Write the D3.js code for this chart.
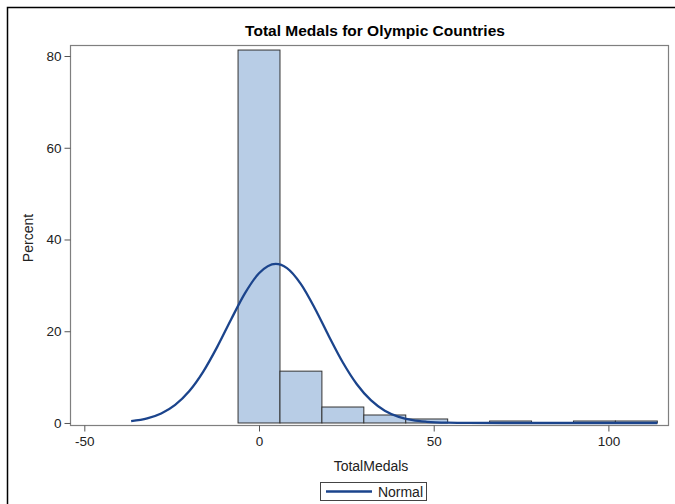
<!DOCTYPE html>
<html>
<head>
<meta charset="utf-8">
<script src="https://cdn.jsdelivr.net/npm/d3@7"></script>
<style>
  html, body { margin: 0; padding: 0; background: #fff; }
  svg { display: block; }
  text { font-family: "Liberation Sans", Arial, sans-serif; }
</style>
</head>
<body>
<svg id="chart" width="675" height="504"></svg>
<script>
// ---- data ----
const binEdges = [-6, 6, 18, 30, 42, 54, 66, 78, 90, 102, 114];
const binPercents = [81.3, 11.3, 3.48, 1.74, 0.87, 0, 0.43, 0, 0.43, 0.43];
const curveX = [-36.6, -32, -28, -24, -20, -16, -12, -8, -4, 0, 4.8, 8, 12, 16, 20, 24, 28, 32, 36, 40, 44, 48, 54, 60, 70, 80, 114];
const curveY = [0.39, 0.99, 2.06, 3.93, 6.9, 11.14, 16.53, 22.56, 28.31, 32.65, 34.69, 33.77, 30.28, 24.96, 18.91, 13.18, 8.44, 4.97, 2.69, 1.34, 0.61, 0.26, 0.06, 0.01, 0, 0, 0];
const xTicks = [-50, 0, 50, 100];
const yTicks = [0, 20, 40, 60, 80];
const titleText = "Total Medals for Olympic Countries";
const xLabel = "TotalMedals";
const yLabel = "Percent";
const legendLabel = "Normal";

// ---- layout ----
const svg = d3.select("#chart");
const frame = { left: 70, right: 668, top: 45, bottom: 425 };

const x = d3.scaleLinear().domain([-54.1, 117.06]).range([frame.left, frame.right]);
const y = d3.scaleLinear().domain([-0.44, 82.4]).range([frame.bottom, frame.top]);

// outer border
svg.append("rect")
  .attr("x", 7.5).attr("y", 7.5).attr("width", 720).attr("height", 540)
  .attr("fill", "none").attr("stroke", "#000").attr("stroke-width", 1.5);

// title
svg.append("text")
  .attr("x", 375).attr("y", 36)
  .attr("text-anchor", "middle").attr("font-size", 15.5).attr("font-weight", "bold")
  .attr("fill", "#000").text(titleText);

// bars
const bins = binPercents.map((p, i) => ({ x0: binEdges[i], x1: binEdges[i + 1], p }));
svg.append("g").selectAll("rect").data(bins.filter(d => d.p > 0)).join("rect")
  .attr("x", d => x(d.x0)).attr("width", d => x(d.x1) - x(d.x0))
  .attr("y", d => y(d.p)).attr("height", d => y(0) - y(d.p))
  .attr("fill", "#B8CDE6").attr("stroke", "#333").attr("stroke-width", 1);

// normal curve
const pts = curveX.map((v, i) => [v, curveY[i]]);
const line = d3.line().x(d => x(d[0])).y(d => y(d[1])).curve(d3.curveMonotoneX);
svg.append("path").datum(pts)
  .attr("d", line).attr("fill", "none")
  .attr("stroke", "#1B448C").attr("stroke-width", 2.3).attr("stroke-linejoin", "round");

// frame
svg.append("rect")
  .attr("x", frame.left + 0.5).attr("y", frame.top + 0.5)
  .attr("width", frame.right - frame.left).attr("height", frame.bottom - frame.top)
  .attr("fill", "none").attr("stroke", "#7F7F7F").attr("stroke-width", 1.2);

// axes
const fmt = d => String(d);
const xAxis = d3.axisBottom(x).tickValues(xTicks).tickFormat(fmt).tickSize(6).tickSizeOuter(0);
const gx = svg.append("g").attr("transform", `translate(0,${frame.bottom + 0.5})`).call(xAxis);
gx.select(".domain").remove();
gx.selectAll(".tick line").attr("stroke", "#555");
gx.selectAll(".tick text").attr("font-size", 13.5).attr("fill", "#222").attr("dy", "0.85em")
  .attr("font-family", "Liberation Sans, Arial, sans-serif");

const yAxis = d3.axisLeft(y).tickValues(yTicks).tickFormat(fmt).tickSize(6).tickSizeOuter(0);
const gy = svg.append("g").attr("transform", `translate(${frame.left + 0.5},0)`).call(yAxis);
gy.select(".domain").remove();
gy.selectAll(".tick line").attr("stroke", "#555");
gy.selectAll(".tick text").attr("font-size", 13.5).attr("fill", "#222")
  .attr("font-family", "Liberation Sans, Arial, sans-serif");

// axis labels
svg.append("text")
  .attr("x", 371).attr("y", 471)
  .attr("text-anchor", "middle").attr("font-size", 14).attr("fill", "#222").text(xLabel);
svg.append("text")
  .attr("transform", `translate(33,${(frame.top + frame.bottom) / 2 + 3}) rotate(-90)`)
  .attr("text-anchor", "middle").attr("font-size", 14).attr("fill", "#222").text(yLabel);

// legend
const lg = svg.append("g");
lg.append("rect").attr("x", 320.5).attr("y", 482.5).attr("width", 106).attr("height", 18)
  .attr("fill", "#fff").attr("stroke", "#444").attr("stroke-width", 1);
lg.append("line").attr("x1", 326).attr("x2", 372).attr("y1", 491.5).attr("y2", 491.5)
  .attr("stroke", "#1B448C").attr("stroke-width", 2.5);
lg.append("text").attr("x", 423).attr("y", 496.5).attr("text-anchor", "end")
  .attr("font-size", 14).attr("fill", "#222").text(legendLabel);
</script>
</body>
</html>
